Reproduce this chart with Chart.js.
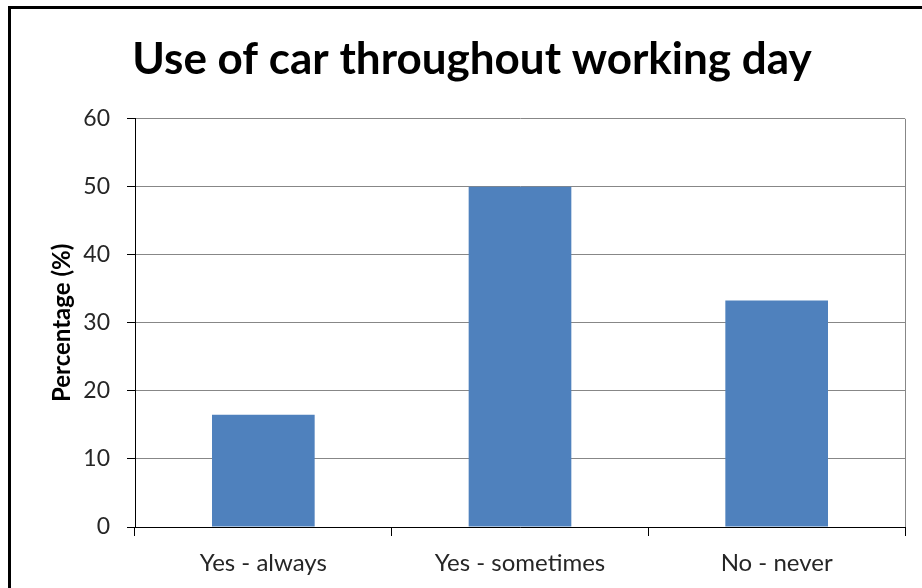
<!DOCTYPE html>
<html>
<head>
<meta charset="utf-8">
<script src="https://cdn.jsdelivr.net/npm/chart.js@4.4.1/dist/chart.umd.min.js"></script>
<style>
  html, body { margin: 0; padding: 0; background: #fff; overflow: hidden; }
  #wrap { position: relative; width: 922px; height: 588px; }
  #frame { position: absolute; left: 8px; top: 6px; width: 1000px; height: 1000px; border: 3px solid #000; box-sizing: border-box; pointer-events: none; }
</style>
</head>
<body>
<div id="wrap">
  <canvas id="carChart" width="922" height="588"></canvas>
  <div id="frame"></div>
</div>
<script>
// Use of car throughout working day
const categories = ['Yes - always', 'Yes - sometimes', 'No - never'];
const percentages = [16.5, 50, 33.3];
const yTicks = [0, 10, 20, 30, 40, 50, 60];

const FONT = 'Lato, "Open Sans", sans-serif';

const carData = {
    labels: categories,
    datasets: [
        {
            label: 'Percentage',
            data: percentages,
            backgroundColor: '#4F81BD',
            borderWidth: 0,
            categoryPercentage: 1,
            barPercentage: 0.4
        }
    ]
};

const carConfig = {
    type: 'bar',
    data: carData,
    options: {
        responsive: false,
        animation: false,
        layout: {
            padding: { left: 39, right: 17, top: 0, bottom: 0 }
        },
        scales: {
            x: {
                grid: {
                    offset: true,
                    drawOnChartArea: true,
                    color: ctx => ctx.type === 'scale' ? '#878787' : 'rgba(0,0,0,0)',
                    tickColor: '#000',
                    tickLength: 9,
                    lineWidth: 1
                },
                border: { color: '#000', width: 1 },
                ticks: {
                    padding: 13,
                    color: '#262626',
                    font: { family: FONT, size: 24 }
                },
                afterFit: scale => { scale.height = 61; }
            },
            y: {
                min: 0,
                max: 60,
                afterBuildTicks: scale => { scale.ticks = yTicks.map(v => ({ value: v })); },
                grid: {
                    color: '#878787',
                    tickColor: '#000',
                    tickLength: 8,
                    lineWidth: 1
                },
                border: { color: '#000', width: 1 },
                ticks: {
                    padding: 17,
                    color: '#262626',
                    font: { family: FONT, size: 23 }
                },
                title: {
                    display: true,
                    text: 'Percentage (%)',
                    color: '#000',
                    font: { family: FONT, size: 24, weight: 'bold' },
                    padding: { top: 9, bottom: 0 }
                },
                afterFit: scale => { scale.width = 96; }
            }
        },
        plugins: {
            legend: { display: false },
            tooltip: { enabled: false },
            title: {
                display: true,
                text: 'Use of car throughout working day',
                color: '#000',
                font: { family: FONT, size: 44, weight: 'bold' },
                padding: { top: 33, bottom: 33 }
            }
        }
    }
};

const carElement = document.querySelector('#carChart');
const carChart = new Chart(carElement, carConfig);
</script>
</body>
</html>
